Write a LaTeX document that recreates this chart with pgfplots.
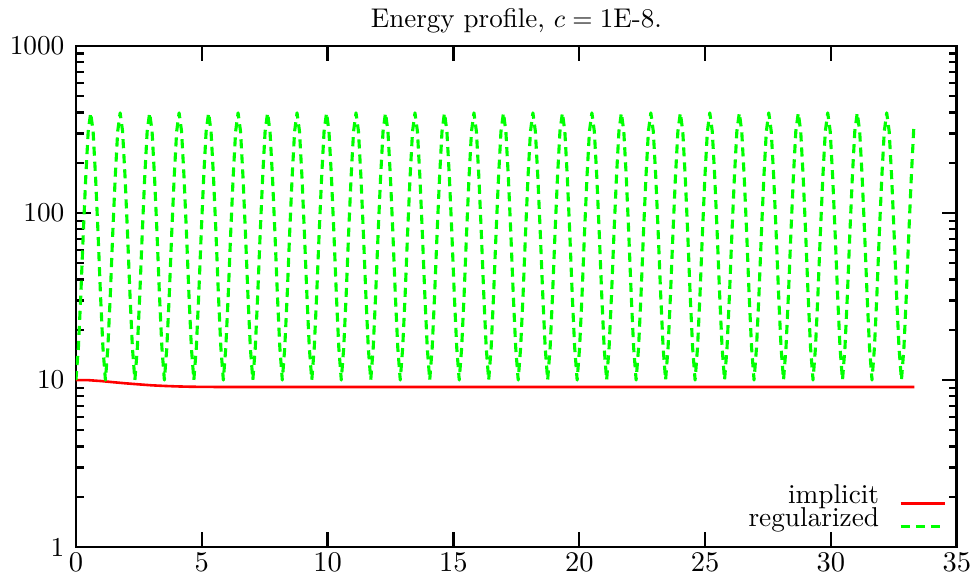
\documentclass[border=0pt]{standalone}
\usepackage{pgfplots}
\pgfplotsset{compat=1.18}
\definecolor{gpred}{RGB}{255,0,0}
\definecolor{gpgreen}{RGB}{0,255,0}
\begin{document}
\begin{tikzpicture}
\path (-29.2pt,-12.3pt) rectangle (346.5pt,210.4pt);
\begin{axis}[
  scale only axis,
  width=338.8pt, height=192.7pt,
  at={(0,0)}, anchor=south west,
  xmin=0, xmax=35, ymode=log, ymin=1, ymax=1000,
  xtick={0,5,10,15,20,25,30,35},
  ytick={1,10,100,1000},
  yticklabels={1,10,100,1000},
  minor ytick={2,3,4,5,6,7,8,9,20,30,40,50,60,70,80,90,200,300,400,500,600,700,800,900},
  tick align=inside,
  major tick length=5.8pt, minor tick length=3pt,
  every tick/.style={black, line width=0.9pt},
  axis line style={line width=1pt},
  tick label style={font=\fontsize{10.5pt}{12.6pt}\selectfont},
  xticklabel style={inner sep=2.3pt},
  yticklabel style={xshift=-0.9pt},
  every axis title shift=0pt,
  title={Energy profile, $c=\mbox{1E-8}$.},
  title style={at={(0.5,1)}, anchor=base, yshift=7.3pt, inner sep=0pt, font=\fontsize{10.4pt}{12.5pt}\selectfont},
  legend plot pos=right,
  legend style={draw=none, fill=none, inner sep=0pt, outer sep=0pt,
    at={(rel axis cs:1,0)}, anchor=south east, xshift=-3.9pt, yshift=5.9pt,
    row sep=0pt, column sep=7.7pt, font=\fontsize{10.5pt}{12.6pt}\selectfont,
    nodes={inner sep=0pt, text height=7.1pt, text depth=1.9pt, anchor=base east}},
  legend cell align=right,
]
\addplot[gpred, line width=1pt, line join=round] coordinates {
(0,10.0) (0.5,9.98) (1,9.86) (1.5,9.7) (2,9.55) (2.5,9.42) (3,9.3) (3.5,9.22) (4,9.16) (4.5,9.12) (5,9.1) (6,9.08) (33.31,9.08)};
\addlegendentry{implicit}
\addplot[gpgreen, line width=1.2pt, line join=round, dash pattern=on 3.5pt off 2.3pt] coordinates {
(0,10) (0.098,15.6) (0.195,32.5) (0.293,75.9) (0.391,164) (0.488,308) (0.586,398) (0.683,308) (0.781,164) (0.879,75.9) (0.976,32.5) (1.074,15.6)
(1.172,10) (1.269,15.6) (1.367,32.5) (1.464,75.9) (1.562,164) (1.660,308) (1.757,398) (1.855,308) (1.953,164) (2.050,75.9) (2.148,32.5) (2.245,15.6)
(2.343,10) (2.441,15.6) (2.538,32.5) (2.636,75.9) (2.734,164) (2.831,308) (2.929,398) (3.026,308) (3.124,164) (3.222,75.9) (3.319,32.5) (3.417,15.6)
(3.515,10) (3.612,15.6) (3.710,32.5) (3.807,75.9) (3.905,164) (4.003,308) (4.100,398) (4.198,308) (4.296,164) (4.393,75.9) (4.491,32.5) (4.588,15.6)
(4.686,10) (4.784,15.6) (4.881,32.5) (4.979,75.9) (5.077,164) (5.174,308) (5.272,398) (5.369,308) (5.467,164) (5.565,75.9) (5.662,32.5) (5.760,15.6)
(5.858,10) (5.955,15.6) (6.053,32.5) (6.150,75.9) (6.248,164) (6.346,308) (6.443,398) (6.541,308) (6.639,164) (6.736,75.9) (6.834,32.5) (6.931,15.6)
(7.029,10) (7.127,15.6) (7.224,32.5) (7.322,75.9) (7.420,164) (7.517,308) (7.615,398) (7.712,308) (7.810,164) (7.908,75.9) (8.005,32.5) (8.103,15.6)
(8.201,10) (8.298,15.6) (8.396,32.5) (8.493,75.9) (8.591,164) (8.689,308) (8.786,398) (8.884,308) (8.982,164) (9.079,75.9) (9.177,32.5) (9.274,15.6)
(9.372,10) (9.470,15.6) (9.567,32.5) (9.665,75.9) (9.763,164) (9.860,308) (9.958,398) (10.055,308) (10.153,164) (10.251,75.9) (10.348,32.5) (10.446,15.6)
(10.544,10) (10.641,15.6) (10.739,32.5) (10.836,75.9) (10.934,164) (11.032,308) (11.129,398) (11.227,308) (11.325,164) (11.422,75.9) (11.520,32.5) (11.617,15.6)
(11.715,10) (11.813,15.6) (11.910,32.5) (12.008,75.9) (12.106,164) (12.203,308) (12.301,398) (12.398,308) (12.496,164) (12.594,75.9) (12.691,32.5) (12.789,15.6)
(12.887,10) (12.984,15.6) (13.082,32.5) (13.179,75.9) (13.277,164) (13.375,308) (13.472,398) (13.570,308) (13.668,164) (13.765,75.9) (13.863,32.5) (13.960,15.6)
(14.058,10) (14.156,15.6) (14.253,32.5) (14.351,75.9) (14.449,164) (14.546,308) (14.644,398) (14.741,308) (14.839,164) (14.937,75.9) (15.034,32.5) (15.132,15.6)
(15.230,10) (15.327,15.6) (15.425,32.5) (15.522,75.9) (15.620,164) (15.718,308) (15.815,398) (15.913,308) (16.011,164) (16.108,75.9) (16.206,32.5) (16.303,15.6)
(16.401,10) (16.499,15.6) (16.596,32.5) (16.694,75.9) (16.792,164) (16.889,308) (16.987,398) (17.084,308) (17.182,164) (17.280,75.9) (17.377,32.5) (17.475,15.6)
(17.573,10) (17.670,15.6) (17.768,32.5) (17.865,75.9) (17.963,164) (18.061,308) (18.158,398) (18.256,308) (18.354,164) (18.451,75.9) (18.549,32.5) (18.646,15.6)
(18.744,10) (18.842,15.6) (18.939,32.5) (19.037,75.9) (19.135,164) (19.232,308) (19.330,398) (19.427,308) (19.525,164) (19.623,75.9) (19.720,32.5) (19.818,15.6)
(19.916,10) (20.013,15.6) (20.111,32.5) (20.208,75.9) (20.306,164) (20.404,308) (20.501,398) (20.599,308) (20.697,164) (20.794,75.9) (20.892,32.5) (20.989,15.6)
(21.087,10) (21.185,15.6) (21.282,32.5) (21.380,75.9) (21.478,164) (21.575,308) (21.673,398) (21.770,308) (21.868,164) (21.966,75.9) (22.063,32.5) (22.161,15.6)
(22.259,10) (22.356,15.6) (22.454,32.5) (22.551,75.9) (22.649,164) (22.747,308) (22.844,398) (22.942,308) (23.040,164) (23.137,75.9) (23.235,32.5) (23.332,15.6)
(23.430,10) (23.528,15.6) (23.625,32.5) (23.723,75.9) (23.821,164) (23.918,308) (24.016,398) (24.113,308) (24.211,164) (24.309,75.9) (24.406,32.5) (24.504,15.6)
(24.602,10) (24.699,15.6) (24.797,32.5) (24.894,75.9) (24.992,164) (25.090,308) (25.187,398) (25.285,308) (25.383,164) (25.480,75.9) (25.578,32.5) (25.675,15.6)
(25.773,10) (25.871,15.6) (25.968,32.5) (26.066,75.9) (26.164,164) (26.261,308) (26.359,398) (26.456,308) (26.554,164) (26.652,75.9) (26.749,32.5) (26.847,15.6)
(26.945,10) (27.042,15.6) (27.140,32.5) (27.237,75.9) (27.335,164) (27.433,308) (27.530,398) (27.628,308) (27.726,164) (27.823,75.9) (27.921,32.5) (28.018,15.6)
(28.116,10) (28.214,15.6) (28.311,32.5) (28.409,75.9) (28.507,164) (28.604,308) (28.702,398) (28.799,308) (28.897,164) (28.995,75.9) (29.092,32.5) (29.190,15.6)
(29.288,10) (29.385,15.6) (29.483,32.5) (29.580,75.9) (29.678,164) (29.776,308) (29.873,398) (29.971,308) (30.069,164) (30.166,75.9) (30.264,32.5) (30.361,15.6)
(30.459,10) (30.557,15.6) (30.654,32.5) (30.752,75.9) (30.850,164) (30.947,308) (31.045,398) (31.142,308) (31.240,164) (31.338,75.9) (31.435,32.5) (31.533,15.6)
(31.631,10) (31.728,15.6) (31.826,32.5) (31.923,75.9) (32.021,164) (32.119,308) (32.216,398) (32.314,308) (32.412,164) (32.509,75.9) (32.607,32.5) (32.704,15.6)
(32.802,10) (32.900,15.6) (32.997,32.5) (33.095,75.9) (33.193,164) (33.290,320)};
\addlegendentry{regularized}
\end{axis}
\end{tikzpicture}
\end{document}
